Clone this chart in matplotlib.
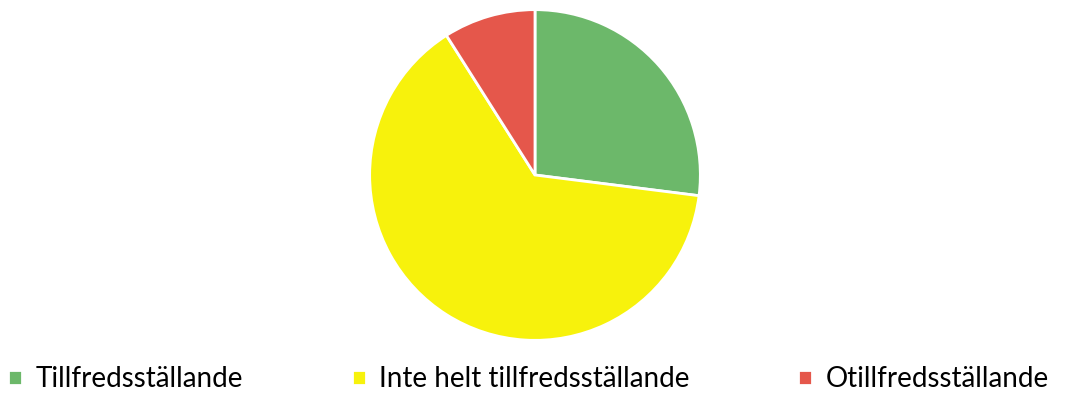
import matplotlib.pyplot as plt

labels = ['Tillfredsställande', 'Inte helt tillfredsställande', 'Otillfredsställande']
values = [27, 64, 9]
colours = ['#6cb86a', '#f7f20c', '#e5574b']

plt.rcParams['font.family'] = ['Lato', 'DejaVu Sans']

fig = plt.figure(figsize=(10.78, 3.99), dpi=100)
ax = fig.add_axes([368 / 1078, 57 / 399, 334 / 1078, 334 / 399])
wedges, _ = ax.pie(values, colors=colours, startangle=90, counterclock=False,
                   wedgeprops=dict(edgecolor='white', linewidth=2))
ax.set_xlim(-1.01, 1.01)
ax.set_ylim(-1.01, 1.01)
ax.set_aspect('equal')

fig.legend(wedges, labels, loc='lower left', bbox_to_anchor=(-0.008, -0.025), ncol=3,
           frameon=False, fontsize=20, handlelength=0.5, handleheight=0.5,
           handletextpad=0.5, columnspacing=3.9, borderaxespad=0.2)

fig.savefig('out.png', dpi=100, facecolor='white')
